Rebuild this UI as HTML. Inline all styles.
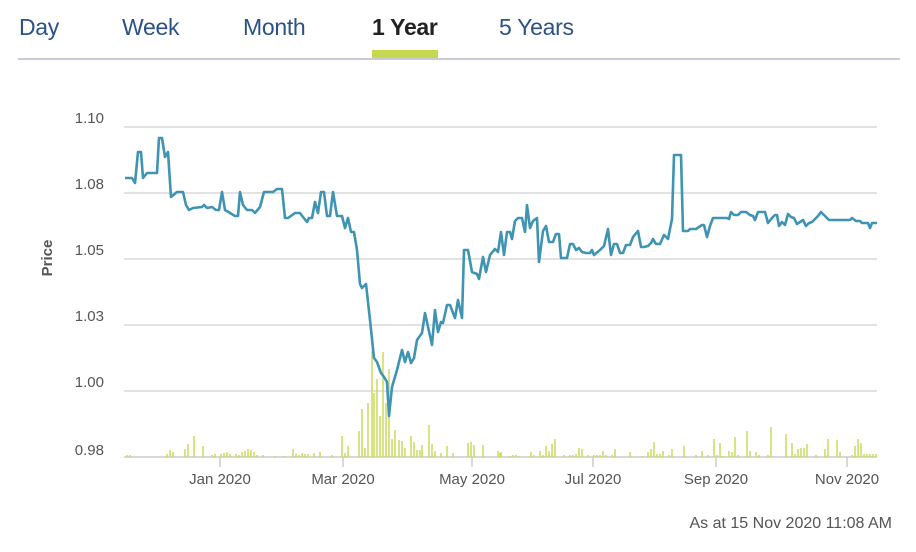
<!DOCTYPE html>
<html><head><meta charset="utf-8"><style>
body{margin:0;width:916px;height:552px;background:#fff;font-family:"Liberation Sans",sans-serif;overflow:hidden;position:relative}
.t{position:absolute;top:14px;font-size:23px;color:#2a5286;letter-spacing:-0.3px}
</style></head><body>
<div class="t" style="left:19px">Day</div>
<div class="t" style="left:122px">Week</div>
<div class="t" style="left:243px">Month</div>
<div class="t" style="left:372px;color:#222;font-weight:bold">1 Year</div>
<div class="t" style="left:499px">5 Years</div>
<div style="position:absolute;left:18px;top:58px;width:882px;height:2px;background:#c8cad8"></div>
<div style="position:absolute;left:372px;top:50px;width:66px;height:8px;background:#c5d84f"></div>
<svg width="916" height="552" style="position:absolute;left:0;top:0" font-family="Liberation Sans, sans-serif">
<g stroke="#d8d8d8" stroke-width="1.5">
<line x1="124" y1="127" x2="877" y2="127"/><line x1="124" y1="193" x2="877" y2="193"/><line x1="124" y1="259" x2="877" y2="259"/><line x1="124" y1="325" x2="877" y2="325"/><line x1="124" y1="391" x2="877" y2="391"/>
</g>
<line x1="124" y1="457" x2="877" y2="457" stroke="#ccc" stroke-width="1.5"/>
<g stroke="#ccc" stroke-width="1.5"><line x1="220" y1="457" x2="220" y2="467"/><line x1="343" y1="457" x2="343" y2="467"/><line x1="472" y1="457" x2="472" y2="467"/><line x1="593" y1="457" x2="593" y2="467"/><line x1="716" y1="457" x2="716" y2="467"/><line x1="847" y1="457" x2="847" y2="467"/></g>
<g font-size="15" fill="#555" text-anchor="end">
<text x="104" y="123">1.10</text><text x="104" y="189">1.08</text><text x="104" y="255">1.05</text><text x="104" y="321">1.03</text><text x="104" y="387">1.00</text><text x="104" y="455">0.98</text>
</g>
<text transform="translate(52,258) rotate(-90)" font-size="15" font-weight="bold" fill="#555" text-anchor="middle">Price</text>
<g font-size="15" fill="#555" text-anchor="middle">
<text x="220" y="484">Jan 2020</text><text x="343" y="484">Mar 2020</text><text x="472" y="484">May 2020</text><text x="593" y="484">Jul 2020</text><text x="716" y="484">Sep 2020</text><text x="847" y="484">Nov 2020</text>
</g>
<text x="892" y="528" font-size="16" fill="#555" text-anchor="end">As at 15 Nov 2020 11:08 AM</text>
<path stroke="#c5d84f" stroke-width="1.4" fill="none" d="M127 457v-2M130 457v-2M167 457v-3M170 457v-7M173 457v-5M185 457v-8M188 457v-13M194 457v-21M203 457v-11M212 457v-2M215 457v-3M221 457v-3M224 457v-4M227 457v-5M230 457v-3M236 457v-3M239 457v-2M242 457v-5M245 457v-6M248 457v-8M251 457v-7M254 457v-5M257 457v-2M263 457v-2M275 457v-1M284 457v-1M293 457v-8M296 457v-3M299 457v-2M302 457v-4M305 457v-3M308 457v-3M314 457v-4M320 457v-5M332 457v-2M342 457v-21M345 457v-4M348 457v-11M359 457v-26M362 457v-48M365 457v-9M368 457v-54M372 457v-106M374 457v-64M377 457v-78M380 457v-41M383 457v-105M386 457v-54M389 457v-88M392 457v-18M395 457v-27M399 457v-17M402 457v-16M405 457v-9M411 457v-21M414 457v-15M417 457v-7M420 457v-7M422 457v-12M429 457v-32M432 457v-13M435 457v-6M441 457v-4M447 457v-11M453 457v-4M468 457v-14M471 457v-15M474 457v-12M483 457v-12M498 457v-6M501 457v-5M500 457v-4M510 457v-1M513 457v-2M516 457v-2M519 457v-1M531 457v-5M534 457v-2M540 457v-6M543 457v-2M546 457v-11M549 457v-6M552 457v-13M555 457v-18M564 457v-2M570 457v-2M573 457v-2M576 457v-3M579 457v-9M582 457v-8M588 457v-2M594 457v-2M597 457v-2M600 457v-2M603 457v-6M606 457v-2M612 457v-2M615 457v-8M630 457v-5M642 457v-1M648 457v-5M651 457v-8M654 457v-15M657 457v-3M660 457v-3M663 457v-6M669 457v-2M672 457v-8M684 457v-11M696 457v-2M702 457v-6M708 457v-2M714 457v-18M717 457v-2M720 457v-14M723 457v-1M729 457v-6M732 457v-5M735 457v-20M738 457v-2M747 457v-26M750 457v-6M756 457v-5M759 457v-2M768 457v-2M771 457v-30M786 457v-23M792 457v-14M795 457v-3M798 457v-8M801 457v-9M804 457v-9M807 457v-13M816 457v-2M825 457v-8M828 457v-18M837 457v-17M840 457v-5M852 457v-2M855 457v-11M858 457v-18M861 457v-14M864 457v-3M867 457v-3M870 457v-3M873 457v-3M876 457v-3"/>
<polyline fill="none" stroke="#3f93b3" stroke-width="2.6" stroke-linejoin="round" points="125,178 132,178 135,183 138,152 141,152 143,178 147,173 157,173 159,138 162,138 165,157 168,152 171,197 177,192 183,192 186,205 189,210 193,208 202,207 204,205 207,208 212,207 216,210 219,210 222,192 225,210 230,213 235,216 238,216 240,192 243,205 247,210 252,210 255,213 260,207 264,192 273,192 277,189 282,189 285,218 288,218 295,213 300,213 303,217 307,222 309,218 312,218 315,202 318,213 321,192 324,192 327,216 330,216 333,192 337,216 342,216 345,228 348,218 351,232 354,232 357,250 360,284 362,288 366,284 370,320 374,358 377,362 381,373 384,377 387,382 389,416 392,387 397,370 402,350 405,362 408,352 411,363 414,358 417,340 422,333 425,313 432,345 435,310 438,332 441,322 443,323 447,305 450,305 455,318 458,300 462,318 464,250 468,250 472,272 477,274 479,279 483,257 486,272 490,255 495,249 498,252 501,232 504,255 507,232 510,232 512,239 515,221 518,218 522,218 525,232 527,205 530,228 533,221 537,218 539,262 543,231 546,226 549,242 553,242 556,234 559,234 561,258 567,258 570,244 573,244 576,250 579,248 582,252 586,253 590,253 592,250 594,255 600,250 604,246 608,229 611,255 614,244 617,244 620,253 623,253 626,245 630,245 633,237 638,231 641,247 644,247 648,246 651,243 653,239 656,244 660,244 664,235 668,239 672,219 674,155 681,155 683,231 688,231 690,229 696,229 702,225 704,225 707,237 710,226 713,218 727,218 729,219 731,212 734,215 738,215 741,212 746,212 750,215 753,216 755,220 758,212 765,212 768,223 772,218 775,215 777,215 779,226 782,222 785,225 788,214 791,217 794,218 797,224 800,222 803,220 806,226 809,223 812,222 815,219 818,216 821,212 825,216 829,220 850,220 852,218 856,221 860,221 862,223 864,223 868,223 870,228 872,223 877,223"/>
</svg>
</body></html>
